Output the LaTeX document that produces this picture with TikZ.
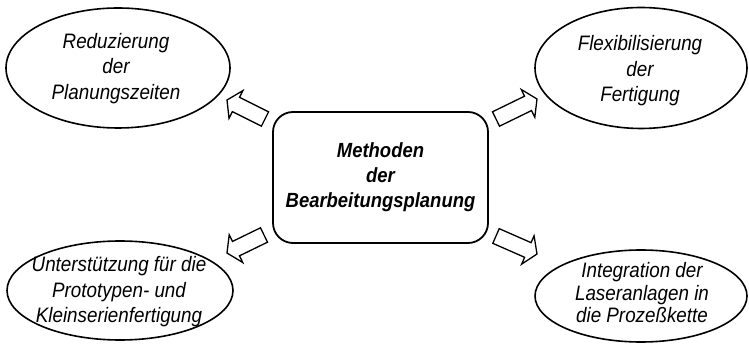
\documentclass[tikz,border=0pt]{standalone}
\usepackage{fontspec}
\setmainfont{Liberation Sans}
% slightly condensed sans for all labels
\newfontfamily\labelfont[FakeStretch=0.9]{Liberation Sans}
\usetikzlibrary{calc,shapes.geometric}

\tikzset{
  goal/.style={ellipse, draw, line width=1.6pt, inner sep=0pt},
  goaltext/.style={align=center, inner sep=0pt,
    font=\labelfont\fontsize{20.9}{25.5}\selectfont\itshape},
  core/.style={rectangle, rounded corners=20pt, draw, line width=1.8pt,
    align=center, inner sep=0pt,
    font=\labelfont\fontsize{20.5}{25}\selectfont\bfseries\itshape},
  hollow/.style={draw, line width=1.3pt, line join=miter, fill=white}
}

% hollow block arrow from tail centre #1 to tip #2
\newcommand\hollowarrow[2]{%
  \path ($(#2)!10pt!(#1)$) coordinate (neck);
  \draw[hollow] ($(#1)!8pt!90:(#2)$) -- ($(neck)!8pt!90:(#2)$)
    -- ($(neck)!15.5pt!90:(#2)$) -- (#2)
    -- ($(neck)!15.5pt!-90:(#2)$) -- ($(neck)!8pt!-90:(#2)$)
    -- ($(#1)!8pt!-90:(#2)$) -- cycle;
}

\begin{document}
\begin{tikzpicture}[x=1pt, y=-1pt]
  \useasboundingbox (0,0) rectangle (749,344);

  % central box
  \node[core, minimum width=215pt, minimum height=131pt] (core) at (380.5,177.5)
    {Methoden\\der\\Bearbeitungsplanung};

  % goal ellipses
  \node[goal, minimum width=224pt, minimum height=120pt] (g1) at (118,68) {};
  \node[goaltext] (g1t) at (116,68.5) {Reduzierung\\der\\Planungszeiten};

  \node[goal, minimum width=212pt, minimum height=121pt] (g2) at (641,68) {};
  \node[goaltext] (g2t) at (640,71) {Flexibilisierung\\der\\Fertigung};

  \node[goal, minimum width=226pt, minimum height=99pt] (g3) at (120,290.5) {};
  \node[goaltext] (g3t) at (119,292) {Unterstützung für die\\Prototypen- und\\Kleinserienfertigung};

  \node[goal, minimum width=212pt, minimum height=92pt] (g4) at (641,296) {};
  \node[goaltext, font=\labelfont\fontsize{20.9}{22.5}\selectfont\itshape] (g4t) at (642,293)
    {Integration der\\Laseranlagen in\\die Prozeßkette};

  % arrow ends
  \coordinate (a1s) at (265,119); \coordinate (a1e) at (227,100);
  \coordinate (a2s) at (496,119); \coordinate (a2e) at (537,99);
  \coordinate (a3s) at (264,235); \coordinate (a3e) at (227,253);
  \coordinate (a4s) at (496,236); \coordinate (a4e) at (537,254);

  \hollowarrow{a1s}{a1e}
  \hollowarrow{a2s}{a2e}
  \hollowarrow{a3s}{a3e}
  \hollowarrow{a4s}{a4e}
\end{tikzpicture}
\end{document}
